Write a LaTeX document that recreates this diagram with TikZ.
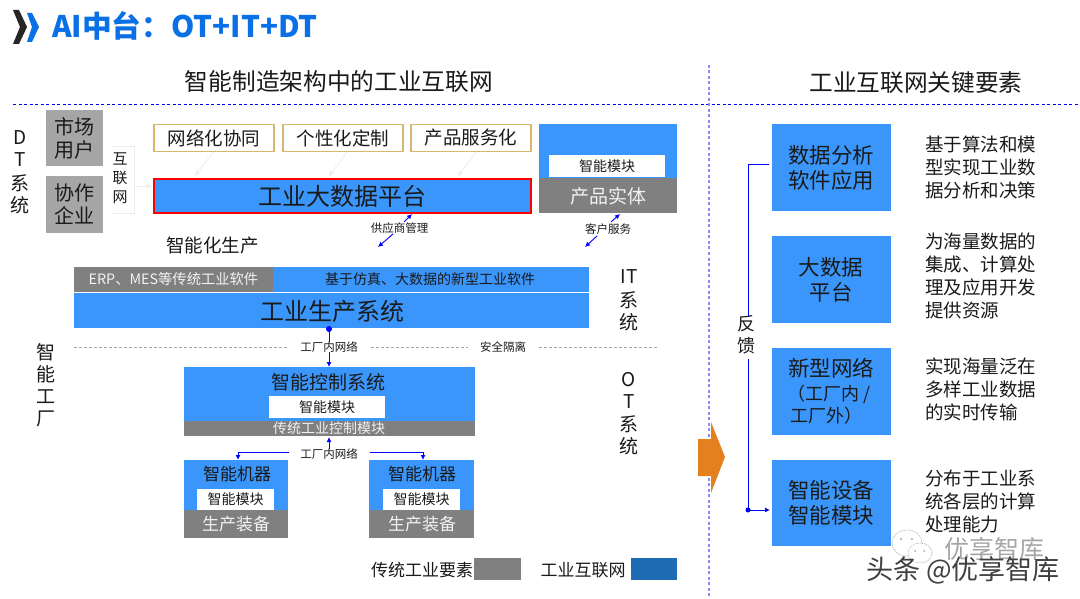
\documentclass[tikz,border=0pt]{standalone}
\usepackage{fontspec}
\setmainfont{Noto Sans CJK SC}
\usetikzlibrary{arrows.meta,calc}
\definecolor{bl}{HTML}{3A96FB}
\definecolor{gy}{HTML}{808080}
\definecolor{lgy}{HTML}{A6A6A6}
\definecolor{tt}{HTML}{0A70E6}
\definecolor{gold}{HTML}{D6B86A}
\definecolor{dsh}{HTML}{8A8AF8}
\definecolor{lt}{HTML}{ECECEC}
\definecolor{txt}{HTML}{1A1A1A}
\definecolor{lgb}{HTML}{1F6CB5}
\definecolor{org}{HTML}{E5801E}
\newcommand{\fs}[1]{\fontsize{#1}{#1}\selectfont}
\tikzset{
 x=1pt,y=-1pt,
 lbl/.style={inner sep=0pt,outer sep=0pt,text=txt,font=\fs{#1},align=center},
 wlbl/.style={inner sep=0pt,outer sep=0pt,text=white!90!gray,font=\fs{#1},align=center},
 desc/.style={inner sep=0pt,outer sep=0pt,text=txt,font=\fs{18.5},anchor=west,align=left},
 warrow/.style={blue,line width=0.9pt,-{Latex[length=5pt,width=5pt]}},
 faint/.style={lt,line width=0.7pt,-{Stealth[length=6pt]}},
 sdash/.style={lgy,line width=0.8pt,dash pattern=on 3pt off 2pt},
 bdash/.style={blue,line width=0.8pt,dash pattern=on 3pt off 2.5pt},
 vdash/.style={dsh,line width=1.5pt,dash pattern=on 3pt off 2.5pt},
 gbox/.style={draw=gold,line width=1.1pt,minimum width=120pt,minimum height=27pt,inner sep=0pt,font=\fs{18.5},text=txt},
 wdot/.style={lgy,line width=0.6pt,dash pattern=on 1pt off 1pt},
}
\newcommand{\rect}[6]{\fill[#1] (#3,#4) rectangle (#5,#6);\coordinate (#2) at ($(#3,#4)!.5!(#5,#6)$);}
\begin{document}
\begin{tikzpicture}
\useasboundingbox (0,0) rectangle (1080,599);
\fill[white] (0,0) rectangle (1080,599);
% title icon
\fill[black!85] (13,10) -- (19,10) -- (27,27) -- (19,44) -- (13,44) -- (20,27) -- cycle;
\fill[tt] (27,13) -- (32,13) -- (39,27) -- (32,42) -- (27,42) -- (32,27) -- cycle;
\node[inner sep=0pt,anchor=west,text=tt,font=\fs{29.7}\bfseries] (title) at (52,26) {AI中台：OT+IT+DT};
% headings
\node[lbl=23.7] (h1) at (339,82) {智能制造架构中的工业互联网};
\node[lbl=23.7] (h2) at (916,83) {工业互联网关键要素};
\draw[bdash] (13,104) -- (1080,104);
\draw[vdash] (709,65) -- (709,598);
% DT
\node[lbl=19] (dtd) at (20,138) {D};
\node[lbl=19] (dtt) at (20,160) {T};
\node[lbl=19] (dtx) at (20,183) {系};
\node[lbl=19] (dtn) at (20,205) {统};
% users
\rect{lgy}{a1}{46}{110}{103}{166}
\node[lbl=20] (market) at (a1) {市场\\[3pt]用户};
\rect{lgy}{a2}{46}{176}{103}{233}
\node[lbl=20] (corp) at (a2) {协作\\[3pt]企业};
% internet
\draw[lt,line width=0.7pt] (112,146) -- (134,146) -- (134,213) -- (112,213);
\node[lbl=15] (inet) at (120,178) {互\\[4pt]联\\[4pt]网};
\draw[faint] (134,186) -- (152,186);
% top boxes
\node[gbox] (n1) at (214,138) {网络化协同};
\node[gbox] (n2) at (343,138) {个性化定制};
\node[gbox] (n3) at (471,138) {产品服务化};
\fill[red] (153,178) rectangle (532,214);
\fill[bl] (155,180) rectangle (530,212);
\node[lbl=24] (bd) at (342,196) {工业大数据平台};
\draw[faint] (n1.south) ++(-1,0) -- (195,176);
\draw[faint] (n2.south) ++(4,0) -- (329,176);
\draw[faint] (n3.south) ++(5,0) -- (458,176);
% product
\rect{bl}{p1}{539}{124}{677}{178}
\rect{gy}{p2}{539}{178}{677}{213}
\node[wlbl=19] (ent) at (608,196.5) {产品实体};
\rect{white}{p3}{549}{155}{665}{177}
\node[lbl=14] (pm) at (p3) {智能模块};
% links
\node[lbl=11.5] (sup) at (399.5,228) {供应商管理};
\draw[warrow] (404,222) -- (412,214);
\draw[warrow] (393,234) -- (378,247);
\node[lbl=11.5] (cus) at (608,229) {客户服务};
\draw[warrow] (611,222) -- (620,214);
\draw[warrow] (597,236) -- (585,247);
\node[lbl=18.5] (zn) at (212.5,245.5) {智能化生产};
% IT
\rect{gy}{e1}{74}{267}{273}{292}
\node[wlbl=14.3] (erp) at (173.5,279.5) {ERP、MES等传统工业软件};
\rect{bl}{e2}{273}{267}{589}{292}
\node[lbl=14] (nsw) at (430,279.5) {基于仿真、大数据的新型工业软件};
\rect{bl}{e3}{74}{293}{589}{328}
\node[lbl=24] (ips) at (332.5,311) {工业生产系统};
\node[lbl=19] (iti) at (629,277) {IT};
\node[lbl=19] (itx) at (629,300) {系};
\node[lbl=19] (itn) at (629,322) {统};
% separators
\draw[sdash] (74,347) -- (288,347);
\draw[sdash] (371,347) -- (468,347);
\draw[sdash] (539,347) -- (657,347);
\node[lbl=11.5] (sec) at (503,347) {安全隔离};
\node[lbl=11.5] (net1) at (329,347) {工厂内网络};
\fill[blue] (329,329) circle (3pt);
\draw[blue,line width=0.9pt] (329,329) -- (net1.north);
\node[lbl=19] (zg) at (46,385) {智\\[3pt]能\\[3pt]工\\[3pt]厂};
% control
\rect{bl}{c1}{184}{367}{475}{421}
\rect{gy}{c2}{184}{421}{475}{436}
\node[lbl=19] (ctl) at (328,382) {智能控制系统};
\rect{white}{c3}{269}{396}{385}{418}
\node[lbl=14] (cm) at (c3) {智能模块};
\node[wlbl=14] (tc) at (329,428.5) {传统工业控制模块};
\draw[warrow] (net1.south) -- (329,367);
\node[lbl=19] (oto) at (629,380) {O};
\node[lbl=19] (ott) at (629,402) {T};
\node[lbl=19] (otx) at (629,424) {系};
\node[lbl=19] (otn) at (629,446) {统};
% machines
\node[lbl=11.5] (net2) at (329,454) {工厂内网络};
\draw[warrow] (net2.north) -- (329,437);
\rect{bl}{m1}{184}{460}{288}{510}
\rect{gy}{m2}{184}{510}{288}{538}
\node[lbl=17] (mt1) at (237,474.5) {智能机器};
\rect{white}{m3}{197}{489}{274}{510}
\node[lbl=14] (mm1) at (m3) {智能模块};
\node[wlbl=17] (eq1) at (236,524.5) {生产装备};
\rect{bl}{k1}{369}{460}{474}{510}
\rect{gy}{k2}{369}{510}{474}{538}
\node[lbl=17] (mt2) at (422,474.5) {智能机器};
\rect{white}{k3}{383}{489}{460}{510}
\node[lbl=14] (mm2) at (k3) {智能模块};
\node[wlbl=17] (eq2) at (422,524.5) {生产装备};
\draw[warrow] (289,452) -- (238,452) -- (238,460);
\draw[warrow] (370,452) -- (423,452) -- (423,460);
% legend
\node[lbl=17] (lg1) at (422,570) {传统工业要素};
\rect{gy}{lb1}{474}{558}{521}{580}
\node[lbl=17] (lg2) at (583,570) {工业互联网};
\rect{lgb}{lb2}{631}{558}{677}{580}
% arrow
\fill[org] (698,439) -- (711,439) -- (711,422) -- (725,457) -- (711,493) -- (711,476) -- (698,476) -- cycle;
% right
\rect{bl}{r1}{772}{124}{891}{211}
\node[lbl=21.5] (rt1) at (831,168) {数据分析\\[3pt]软件应用};
\rect{bl}{r2}{772}{236}{891}{323}
\node[lbl=21.5] (rt2) at (831,280) {大数据\\[3pt]平台};
\rect{bl}{r3}{772}{348}{891}{435}
\node[lbl=21.5] (rt3) at (831,368) {新型网络};
\node[lbl=18] (rt3b) at (829,394) {（工厂内 /};
\node[lbl=18] (rt3c) at (826,416) {工厂外）};
\rect{bl}{r4}{772}{460}{891}{546}
\node[lbl=21.5] (rt4) at (831,503) {智能设备\\[3pt]智能模块};
\node[desc] (d1) at (925,167) {基于算法和模\\[4.5pt]型实现工业数\\[4.5pt]据分析和决策};
\node[desc] (d2) at (925,276) {为海量数据的\\[4.5pt]集成、计算处\\[4.5pt]理及应用开发\\[4.5pt]提供资源};
\node[desc] (d3) at (925,389) {实现海量泛在\\[4.5pt]多样工业数据\\[4.5pt]的实时传输};
\node[desc] (d4) at (925,501) {分布于工业系\\[4.5pt]统各层的计算\\[4.5pt]处理能力};
% feedback
\node[lbl=18] (fb) at (746,335) {反\\[4pt]馈};
\draw[blue,line width=0.8pt] (769,164) -- (748,164) -- (fb.north -| 748,308);
\draw[blue,line width=0.8pt] (748,359) -- (748,510);
\fill[blue] (748,510) circle (2.5pt);
\draw[warrow] (748,510) -- (770,510);
% watermark
\node[inner sep=0pt,text=lgy,font=\fs{25}] (wm1) at (994,549) {优享智库};
\draw[wdot] (907,543) ellipse (15pt and 13pt);
\fill[white] (920,553) ellipse (12pt and 10pt);
\draw[wdot] (920,553) ellipse (12pt and 10pt);
\fill[lgy] (901,539) circle (1.2pt) (912,539) circle (1.2pt) (915,551) circle (1pt) (924,551) circle (1pt);
\node[inner sep=0pt,text=black!75,font=\fs{27}] (wm2) at (963,570) {头条 @优享智库};
\end{tikzpicture}
\end{document}
